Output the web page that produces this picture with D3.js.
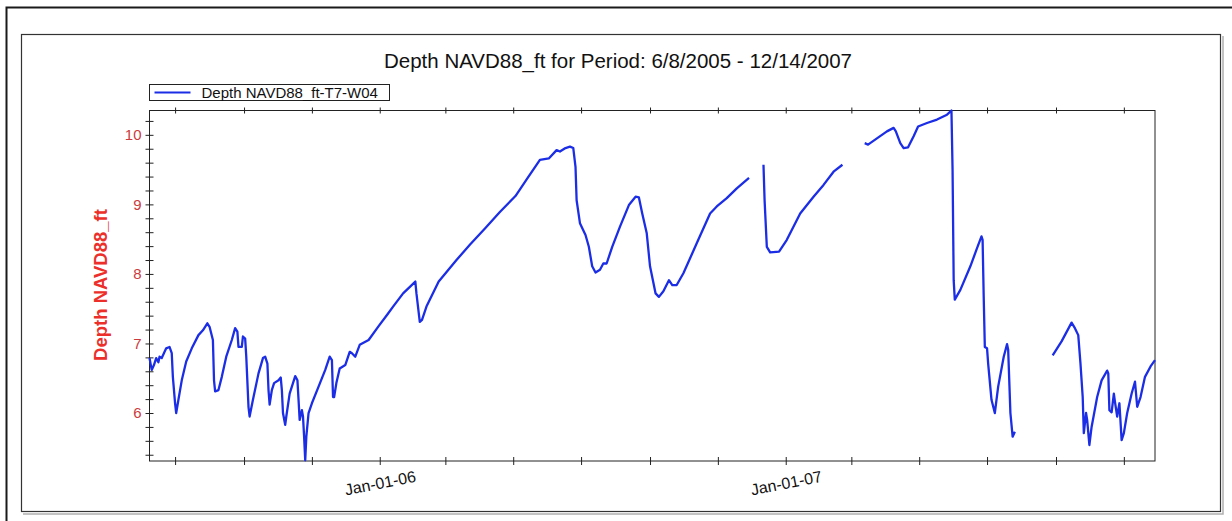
<!DOCTYPE html>
<html>
<head>
<meta charset="utf-8">
<script src="https://cdn.jsdelivr.net/npm/d3@7"></script>
<style>
  body { margin: 0; background: #fff; }
  svg { display: block; font-family: "Liberation Sans", Arial, sans-serif; }
</style>
</head>
<body>
<div id="d3-container"></div>
<script>
const chartTitle = "Depth NAVD88_ft for Period: 6/8/2005 - 12/14/2007";
const seriesName = "Depth NAVD88_ft-T7-W04";
const yTitle = "Depth NAVD88_ft";

const xDomain = ["2005-06-08", "2007-11-29"];
const yDomain = [5.31, 10.35];
const yLabelTicks = [6, 7, 8, 9, 10];

// readings, null marks a gap in the record
const dates = [
  "2005-06-08","2005-06-10","2005-06-12","2005-06-14","2005-06-16","2005-06-17","2005-06-19","2005-06-23",
  "2005-06-26","2005-06-28","2005-06-29","2005-07-01","2005-07-02","2005-07-04","2005-07-07","2005-07-11",
  "2005-07-16","2005-07-22","2005-07-26","2005-07-30","2005-08-01","2005-08-04","2005-08-05","2005-08-06",
  "2005-08-09","2005-08-12","2005-08-16","2005-08-21","2005-08-24","2005-08-26","2005-08-27","2005-08-30",
  "2005-08-31","2005-09-02","2005-09-03","2005-09-05","2005-09-06","2005-09-09","2005-09-14","2005-09-18",
  "2005-09-20","2005-09-22","2005-09-23","2005-09-24","2005-09-26","2005-09-28","2005-10-02","2005-10-04",
  "2005-10-05","2005-10-06","2005-10-08","2005-10-09","2005-10-12","2005-10-15","2005-10-17","2005-10-19",
  "2005-10-20","2005-10-21","2005-10-23","2005-10-24","2005-10-25","2005-10-26","2005-10-27","2005-10-29",
  "2005-11-01","2005-11-07","2005-11-13","2005-11-17","2005-11-19","2005-11-20","2005-11-21","2005-11-23",
  "2005-11-26","2005-12-01","2005-12-05","2005-12-07","2005-12-10","2005-12-14","2005-12-22","2005-12-31",
  "2006-01-08","2006-01-13","2006-01-22","2006-02-02","2006-02-03","2006-02-06","2006-02-08","2006-02-12",
  "2006-02-23","2006-03-11","2006-03-23","2006-04-06","2006-04-19","2006-05-03","2006-05-14","2006-05-25",
  "2006-06-02","2006-06-09","2006-06-12","2006-06-17","2006-06-21","2006-06-24","2006-06-26","2006-06-27",
  "2006-06-30","2006-07-05","2006-07-08","2006-07-11","2006-07-14","2006-07-18","2006-07-21","2006-07-24",
  "2006-07-29","2006-08-05","2006-08-13","2006-08-19","2006-08-22","2006-08-25","2006-08-29","2006-09-01",
  "2006-09-06","2006-09-09","2006-09-13","2006-09-18","2006-09-21","2006-09-25","2006-10-01","2006-10-13",
  "2006-10-25","2006-10-31","2006-11-09","2006-11-18","2006-11-29","2006-12-05","2006-12-12","2006-12-13",
  "2006-12-15","2006-12-18","2006-12-26","2007-01-02","2007-01-14","2007-01-26","2007-02-04","2007-02-13",
  "2007-02-21","2007-03-01","2007-03-13","2007-03-16","2007-03-24","2007-04-02","2007-04-08","2007-04-10",
  "2007-04-14","2007-04-17","2007-04-21","2007-04-26","2007-04-30","2007-05-08","2007-05-17","2007-05-26",
  "2007-05-30","2007-05-31","2007-06-01","2007-06-02","2007-06-07","2007-06-16","2007-06-22","2007-06-26",
  "2007-06-27","2007-06-28","2007-06-29","2007-07-01","2007-07-02","2007-07-05","2007-07-08","2007-07-11",
  "2007-07-16","2007-07-19","2007-07-20","2007-07-22","2007-07-24","2007-07-26","2007-08-10","2007-08-29",
  "2007-09-06","2007-09-15","2007-09-18","2007-09-21","2007-09-23","2007-09-25","2007-09-26","2007-09-28",
  "2007-09-29","2007-10-01","2007-10-03","2007-10-08","2007-10-12","2007-10-17","2007-10-18","2007-10-19",
  "2007-10-21","2007-10-23","2007-10-24","2007-10-26","2007-10-28","2007-10-30","2007-11-01","2007-11-04",
  "2007-11-08","2007-11-11","2007-11-13","2007-11-16","2007-11-20","2007-11-25","2007-11-29"
];

const depths = [
  6.79, 6.62, 6.69, 6.79, 6.73, 6.81, 6.79, 6.93,
  6.95, 6.86, 6.52, 6.14, 6.00, 6.19, 6.47, 6.74,
  6.93, 7.12, 7.19, 7.29, 7.24, 7.05, 6.47, 6.31,
  6.33, 6.52, 6.81, 7.05, 7.22, 7.17, 6.95, 6.95,
  7.10, 7.07, 6.81, 6.09, 5.95, 6.19, 6.57, 6.79,
  6.81, 6.71, 6.33, 6.12, 6.33, 6.43, 6.47, 6.51,
  6.33, 6.00, 5.83, 5.95, 6.28, 6.43, 6.53, 6.47,
  6.19, 5.90, 6.04, 5.95, 5.66, 5.32, 5.66, 6.00,
  6.14, 6.38, 6.62, 6.81, 6.76, 6.23, 6.23, 6.43,
  6.64, 6.69, 6.88, 6.86, 6.81, 6.98, 7.05, 7.25,
  7.42, 7.53, 7.72, 7.89, 7.72, 7.31, 7.34, 7.53,
  7.89, 8.20, 8.42, 8.66, 8.89, 9.12, 9.38, 9.64,
  9.66, 9.78, 9.76, 9.81, 9.83, 9.81, 9.54, 9.06,
  8.73, 8.56, 8.39, 8.11, 8.02, 8.06, 8.15, 8.15,
  8.39, 8.68, 8.99, 9.11, 9.10, 8.87, 8.59, 8.11,
  7.72, 7.67, 7.75, 7.91, 7.84, 7.84, 8.01, 8.44,
  8.87, 8.97, 9.09, 9.23, 9.38, null, 9.57, 9.06,
  8.39, 8.31, 8.32, 8.49, 8.87, 9.11, 9.28, 9.47,
  9.57, null, 9.88, 9.86, 9.95, 10.05, 10.10, 10.05,
  9.88, 9.81, 9.82, 9.98, 10.12, 10.17, 10.22, 10.29,
  10.35, 9.50, 7.91, 7.63, 7.77, 8.11, 8.37, 8.54,
  8.49, 7.67, 6.95, 6.93, 6.71, 6.19, 6.00, 6.38,
  6.81, 6.99, 6.91, 6.00, 5.66, 5.73, null, 6.83,
  7.03, 7.30, 7.22, 7.12, 6.71, 6.23, 5.71, 6.00,
  5.90, 5.54, 5.80, 6.23, 6.47, 6.61, 6.57, 6.04,
  6.01, 6.28, 6.16, 5.95, 6.14, 5.61, 5.71, 6.00,
  6.28, 6.45, 6.09, 6.23, 6.52, 6.67, 6.76
];

const width = 1232;
const height = 521;
const margin = { top: 110.5, bottom: 60, left: 149.5, right: 77 };

const parse = d3.timeParse("%Y-%m-%d");
const data = dates.map((d, i) => ({ date: parse(d), value: depths[i] }));

const svg = d3.select("#d3-container")
  .append("svg")
  .attr("width", width)
  .attr("height", height)
  .attr("viewBox", [0, 0, width, height]);

// page frames
svg.append("path")
  .attr("d", `M6.5,${height} V7.5 H${width}`)
  .attr("fill", "none")
  .attr("stroke", "#1a1a1a")
  .attr("stroke-width", 2);
svg.append("path")
  .attr("d", "M1223,36 V514 H23")
  .attr("fill", "none")
  .attr("stroke", "#b0b0b0")
  .attr("stroke-width", 1.5);
svg.append("rect")
  .attr("x", 21.5).attr("y", 34.5)
  .attr("width", 1199).attr("height", 477)
  .attr("fill", "none")
  .attr("stroke", "#333")
  .attr("stroke-width", 1.2);

const x = d3.scaleTime()
  .domain(xDomain.map(parse))
  .range([margin.left, width - margin.right]);

const y = d3.scaleLinear()
  .domain(yDomain)
  .range([height - margin.bottom, margin.top]);

const xTicks = x.ticks(d3.timeMonth.every(2));
const yTicks = d3.range(27, 52).map(v => v / 5);
const fmt = d3.timeFormat("%b-%d-%y");

// plot box
svg.append("rect")
  .attr("x", margin.left).attr("y", margin.top)
  .attr("width", width - margin.right - margin.left)
  .attr("height", height - margin.bottom - margin.top)
  .attr("fill", "none")
  .attr("stroke", "#222");

svg.append("text")
  .attr("x", 618)
  .attr("y", 68)
  .attr("text-anchor", "middle")
  .attr("font-size", "20.5px")
  .attr("fill", "#111")
  .text(chartTitle);

function xAxis(g) {
  g.attr("transform", `translate(0,${height - margin.bottom})`)
    .call(d3.axisBottom(x).tickValues(xTicks).tickSize(4)
      .tickFormat(d => d.getMonth() === 0 ? fmt(d) : ""))
    .call(g => g.select(".domain").remove())
    .call(g => g.selectAll(".tick line").attr("y1", -4).attr("stroke", "#222"))
    .call(g => g.selectAll(".tick text")
      .attr("font-size", "16px")
      .attr("fill", "#111")
      .attr("text-anchor", "middle")
      .attr("transform", "translate(0,22) rotate(-11)")
      .attr("y", 0).attr("dy", "0.35em"));
}

function xAxisTop(g) {
  g.attr("transform", `translate(0,${margin.top})`)
    .call(d3.axisTop(x).tickValues(xTicks).tickSize(3).tickFormat(""))
    .call(g => g.select(".domain").remove())
    .call(g => g.selectAll(".tick line").attr("y1", 3).attr("stroke", "#222"));
}

function yAxis(g) {
  g.attr("transform", `translate(${margin.left},0)`)
    .call(d3.axisLeft(y).tickValues(yTicks).tickSize(4).tickPadding(4)
      .tickFormat(d => yLabelTicks.some(t => Math.abs(t - d) < 1e-6) ? d3.format("d")(d) : ""))
    .call(g => g.select(".domain").remove())
    .call(g => g.selectAll(".tick line").attr("x1", 4).attr("stroke", "#222"))
    .call(g => g.selectAll(".tick text")
      .attr("font-size", "15px")
      .attr("fill", "#cc3b3b"));
}

svg.append("g").call(xAxis);
svg.append("g").call(xAxisTop);
svg.append("g").call(yAxis);

svg.append("text")
  .attr("transform", `translate(107,285) rotate(-90)`)
  .attr("text-anchor", "middle")
  .attr("font-size", "18.5px")
  .attr("font-weight", "bold")
  .attr("fill", "#ec2f2a")
  .text(yTitle);

const line = d3.line()
  .defined(d => d.value !== null)
  .x(d => x(d.date))
  .y(d => y(d.value));

svg.append("path")
  .datum(data)
  .attr("fill", "none")
  .attr("stroke", "#1b2ee6")
  .attr("stroke-width", 2.3)
  .attr("stroke-linejoin", "round")
  .attr("d", line);

// legend
const legend = svg.append("g").attr("transform", "translate(149.5,84.5)");
legend.append("rect")
  .attr("width", 240).attr("height", 16)
  .attr("fill", "#fff")
  .attr("stroke", "#222");
legend.append("line")
  .attr("x1", 5).attr("x2", 41)
  .attr("y1", 8).attr("y2", 8)
  .attr("stroke", "#1b2ee6")
  .attr("stroke-width", 2.2);
legend.append("text")
  .attr("x", 52).attr("y", 13)
  .attr("font-size", "15px")
  .attr("fill", "#111")
  .text(seriesName);
</script>
</body>
</html>
